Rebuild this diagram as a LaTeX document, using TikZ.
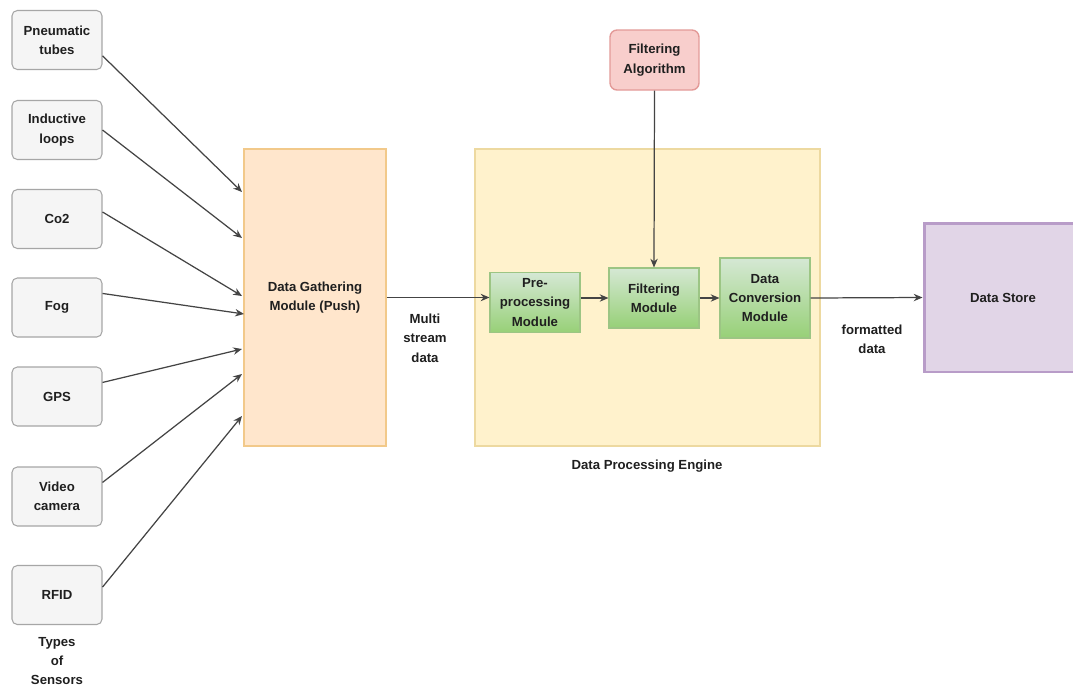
\documentclass[tikz,border=0pt]{standalone}
\usepackage{fontspec}
\setmainfont{Liberation Sans}
\usetikzlibrary{arrows.meta}

\definecolor{sensfill}{HTML}{F5F5F5}
\definecolor{sensline}{HTML}{A6A6A6}
\definecolor{gathfill}{HTML}{FFE6CC}
\definecolor{gathline}{HTML}{F2C98A}
\definecolor{engfill}{HTML}{FFF2CC}
\definecolor{engline}{HTML}{EDD9A0}
\definecolor{modtop}{HTML}{D5E8D4}
\definecolor{modbot}{HTML}{97D077}
\definecolor{modline}{HTML}{9CC584}
\definecolor{algfill}{HTML}{F8CECC}
\definecolor{algline}{HTML}{E39A98}
\definecolor{storefill}{HTML}{E1D5E7}
\definecolor{storeline}{HTML}{B89CC8}
\definecolor{linkcol}{HTML}{444444}
\definecolor{txtcol}{HTML}{1F1F1F}

\tikzset{
  sensor/.style={draw=sensline, fill=sensfill, rounded corners=3pt, line width=0.6pt,
    minimum width=1.8cm, minimum height=1.18cm, align=center},
  module/.style={draw=modline, top color=modtop, bottom color=modbot, line width=0.6pt,
    minimum width=1.8cm, minimum height=1.2cm, align=center},
  link/.style={draw=linkcol, line width=0.7pt, -{Stealth[length=5pt,width=4.2pt]}},
  tag/.style={align=center}
}

\begin{document}
\begin{tikzpicture}[x=0.02cm,y=-0.02cm,font=\fontsize{7.5}{11}\selectfont\bfseries,text=txtcol]
\clip (0,0) rectangle (1073,691);
\fill[white] (0,0) rectangle (1073,691);

\node[sensor] (pneu) at (57,40) {Pneumatic\\tubes};
\node[sensor] (loop) at (57,130) {Inductive\\loops};
\node[sensor] (co2) at (57,219) {Co2};
\node[sensor] (fog) at (57,307.5) {Fog};
\node[sensor] (gps) at (57,396.5) {GPS};
\node[sensor] (video) at (57,496.5) {Video\\camera};
\node[sensor] (rfid) at (57,595) {RFID};
\node[tag] (types) at (57,661) {Types\\of\\Sensors};

\node[draw=gathline, fill=gathfill, line width=0.8pt, minimum width=2.84cm, minimum height=5.94cm,
  align=center] (gather) at (315,297.5) {Data Gathering\\Module (Push)};

\node[draw=engline, fill=engfill, line width=0.8pt, minimum width=6.9cm, minimum height=5.94cm] (engine) at (647.5,297.5) {};
\node[tag] (englbl) at (647,466) {Data Processing Engine};

\node[draw=algline, fill=algfill, rounded corners=4pt, line width=0.8pt, minimum width=1.78cm,
  minimum height=1.2cm, align=center] (falg) at (654.5,60) {Filtering\\Algorithm};

\node[module] (pre) at (535,302.5) {Pre-\\processing\\Module};
\node[module] (fmod) at (654,298) {Filtering\\Module};
\node[module, minimum height=1.6cm] (conv) at (765,298) {Data\\Conversion\\Module};

\node[draw=storeline, fill=storefill, line width=1.7pt, minimum width=3.16cm, minimum height=2.98cm] (store) at (1003,297.5) {Data Store};

\coordinate (in1) at (242,192);
\coordinate (in2) at (242,238);
\coordinate (in3) at (242,296);
\coordinate (in4) at (244,314);
\coordinate (in5) at (242,349);
\coordinate (in6) at (242,374);
\coordinate (in7) at (242,416);

\draw[link] ([yshift=-9pt]pneu.east) -- (in1);
\draw[link] (loop.east) -- (in2);
\draw[link] ([yshift=4pt]co2.east) -- (in3);
\draw[link] ([yshift=8pt]fog.east) -- (in4);
\draw[link] ([yshift=8pt]gps.east) -- (in5);
\draw[link] ([yshift=8pt]video.east) -- (in6);
\draw[link] ([yshift=4.5pt]rfid.east) -- (in7);

\draw[link] (gather.east) -- (gather.east -| pre.west);
\node[tag] (multi) at (425,338) {Multi\\stream\\data};
\draw[link] (pre.east |- fmod.west) -- (fmod.west);
\draw[link] (fmod.east) -- (conv.west);
\draw[link] (falg.south) -- (fmod.north);
\draw[link] (conv.east) -- (store.west);
\node[tag] (fmt) at (872,339) {formatted\\data};
\end{tikzpicture}
\end{document}
